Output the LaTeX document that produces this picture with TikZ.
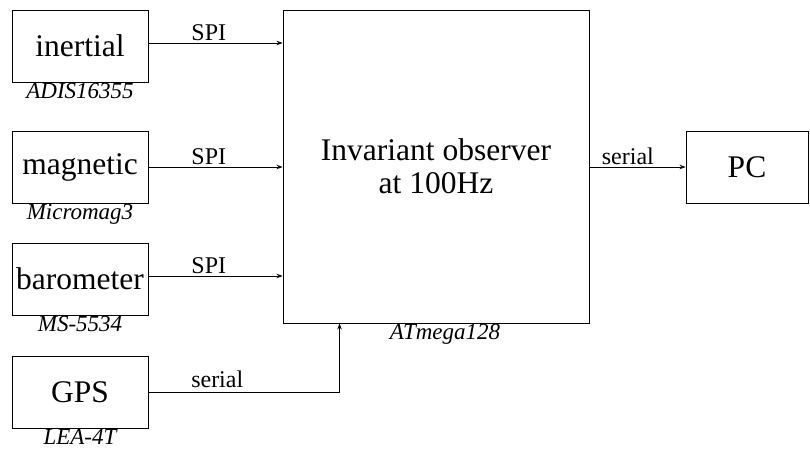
\documentclass[tikz,border=0pt]{standalone}
\usepackage{fontspec}
\setmainfont{Liberation Serif}
\usetikzlibrary{arrows.meta,positioning,calc}

\begin{document}
\begin{tikzpicture}[x=1pt,y=1pt,>={Stealth[length=6pt,width=4.5pt]},
  blk/.style={draw, line width=0.9pt, minimum width=136pt, minimum height=72pt,
    inner sep=0pt, font=\fontsize{31.5}{33}\selectfont},
  part/.style={font=\fontsize{23}{24}\itshape, inner sep=1pt},
  lnk/.style={->, line width=0.9pt},
  lbl/.style={font=\fontsize{24}{26}\selectfont, inner sep=2pt}]
  \useasboundingbox (0,0) rectangle (810,-451);
  % ---- sensors ----
  \node[blk] (inertial) at (80,-46) {inertial};
  \node[blk] (magnetic) at (80,-167) {magnetic};
  \node[blk] (barometer) at (80,-279) {barometer};
  \node[blk] (gps) at (80,-392) {GPS};
  \node[part, below=0pt of inertial] (adis) {ADIS16355};
  \node[part, below=0pt of magnetic] (micromag) {Micromag3};
  \node[part, below=0pt of barometer] (ms) {MS-5534};
  \node[part, below=0pt of gps] (lea) {LEA-4T};
  % ---- observer and PC ----
  \node[blk, minimum width=306pt, minimum height=313pt, align=center]
    (observer) at (436,-166.5) {Invariant observer\\at 100Hz};
  \node[part, below=0pt of observer, xshift=9pt] (atmega) {ATmega128};
  \node[blk, minimum width=122pt] (pc) at (747,-167) {PC};
  \coordinate (gpsin) at ($(observer.south west)+(57,0)$);
  % ---- links ----
  \foreach \s/\dy in {inertial/3,magnetic/0,barometer/3}
    \draw[lnk] ([yshift=\dy pt]\s.east) -- ([yshift=\dy pt]\s.east -| observer.west)
      node[lbl, pos=0.45, above] {SPI};
  \draw[lnk] (gps.east) -| (gpsin) node[lbl, pos=0.18, above, yshift=2pt] {serial};
  \draw[lnk] (observer.east |- pc.west) -- (pc.west) node[lbl, pos=0.4, above] {serial};
\end{tikzpicture}
\end{document}
